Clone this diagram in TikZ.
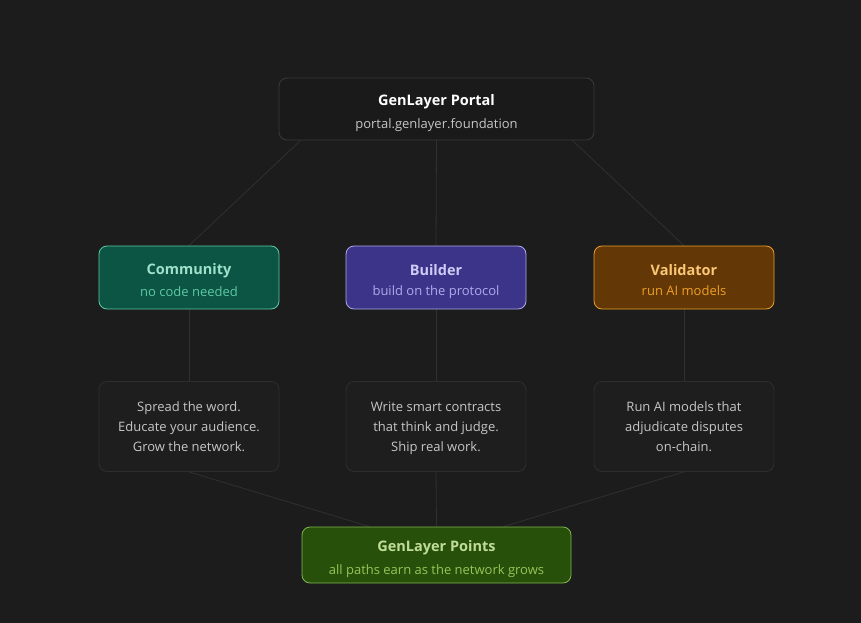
\documentclass[tikz,border=0pt]{standalone}
\usepackage{fontspec}
\setmainfont{Open Sans}
\usepackage{tikz}
\usetikzlibrary{positioning, calc, backgrounds}
\definecolor{bgdark}{HTML}{1C1C1C}
\definecolor{linegray}{HTML}{303030}
\definecolor{portalfill}{HTML}{1A1A1A}
\definecolor{portaledge}{HTML}{3A3A3A}
\definecolor{commfill}{HTML}{0C5443}
\definecolor{commedge}{HTML}{5DCAA5}
\definecolor{commtitle}{HTML}{9FE1CB}
\definecolor{commsub}{HTML}{5DCAA5}
\definecolor{buildfill}{HTML}{3C3489}
\definecolor{buildedge}{HTML}{AFA9EC}
\definecolor{buildtitle}{HTML}{CECBF6}
\definecolor{buildsub}{HTML}{AFA9EC}
\definecolor{valfill}{HTML}{633806}
\definecolor{valedge}{HTML}{EF9F27}
\definecolor{valtitle}{HTML}{FAC775}
\definecolor{valsub}{HTML}{EF9F27}
\definecolor{ptsfill}{HTML}{27500A}
\definecolor{ptsedge}{HTML}{7FB84E}
\definecolor{ptstitle}{HTML}{C0DD97}
\definecolor{ptssub}{HTML}{97C459}
\definecolor{descfill}{HTML}{1E1E1E}
\definecolor{descedge}{HTML}{2E2E2E}
\definecolor{desctext}{HTML}{C6C6C6}

\tikzset{
	box/.style={rounded corners=8pt, line width=0.8pt, align=center,
		minimum width=180pt, minimum height=63pt, inner sep=0pt, text depth=0pt},
	descbox/.style={rounded corners=8pt, line width=0.8pt, align=center,
		minimum width=180pt, minimum height=90pt, inner sep=0pt, text depth=0pt,
		fill=descfill, draw=descedge, text=desctext,
		font=\fontsize{13pt}{20pt}\selectfont},
	link/.style={draw=linegray, line width=0.8pt},
}
\newcommand{\boxlabel}[4]{%
	{\fontsize{14.5pt}{16pt}\selectfont\bfseries\color{#3}\rule{0pt}{16pt}#1}\\[8pt]%
	{\fontsize{13pt}{15pt}\selectfont\color{#4}#2}}

\begin{document}
\begin{tikzpicture}[x=1pt, y=-1pt]
	\useasboundingbox (0,0) rectangle (861,623);

	% top
	\node[box, fill=portalfill, draw=portaledge, minimum width=315pt, minimum height=62pt]
		(portal) at (436.5,109) {\boxlabel{GenLayer Portal}{portal.genlayer.foundation}{white}{desctext}};

	% paths
	\node[box, fill=commfill, draw=commedge] (community) at (189,277.5)
		{\boxlabel{Community}{no code needed}{commtitle}{commsub}};
	\node[box, fill=buildfill, draw=buildedge] (builder) at (436,277.5)
		{\boxlabel{Builder}{build on the protocol}{buildtitle}{buildsub}};
	\node[box, fill=valfill, draw=valedge] (validator) at (684,277.5)
		{\boxlabel{Validator}{run AI models}{valtitle}{valsub}};

	% descriptions
	\node[descbox] (commdesc) at (189,426.5) {Spread the word.\\Educate your audience.\\Grow the network.};
	\node[descbox] (builddesc) at (436,426.5) {Write smart contracts\\that think and judge.\\Ship real work.};
	\node[descbox] (valdesc) at (684,426.5) {Run AI models that\\adjudicate disputes\\on-chain.};

	% bottom
	\node[box, fill=ptsfill, draw=ptsedge, minimum width=269pt, minimum height=56pt]
		(points) at (436.5,555) {\boxlabel{GenLayer Points}{all paths earn as the network grows}{ptstitle}{ptssub}};

	% connectors
	\coordinate (pl) at ($(portal.south west)+(22,0)$);
	\coordinate (pr) at ($(portal.south east)+(-22,0)$);
	\coordinate (bl) at ($(points.north west)+(68,0)$);
	\coordinate (br) at ($(points.north east)+(-68,0)$);
	\begin{scope}[on background layer]
		\fill[bgdark] (0,0) rectangle (861,623);
		\draw[link] (pl) -- (community.north);
		\draw[link] (portal.south) -- (builder.north);
		\draw[link] (pr) -- (validator.north);
		\foreach \a/\b in {community/commdesc, builder/builddesc, validator/valdesc}
			\draw[link] (\a.south) -- (\b.north);
		\draw[link] (commdesc.south) -- (bl);
		\draw[link] (builddesc.south) -- (points.north);
		\draw[link] (valdesc.south) -- (br);
	\end{scope}
\end{tikzpicture}
\end{document}
